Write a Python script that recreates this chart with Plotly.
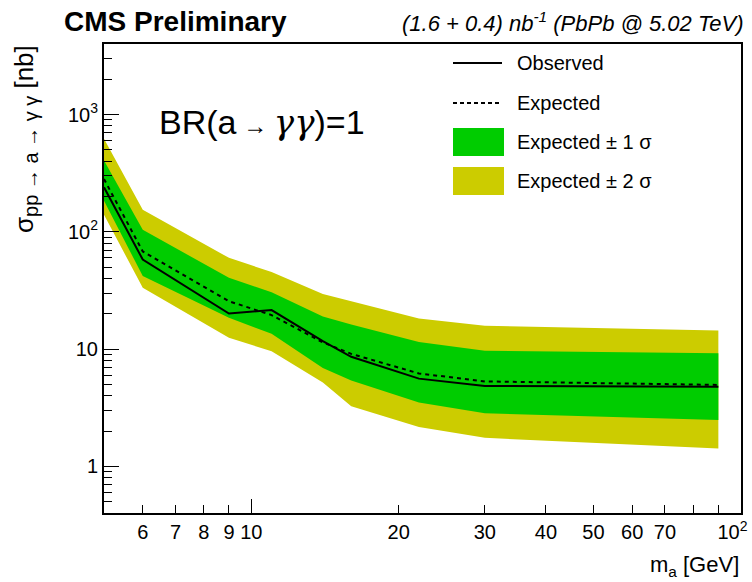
import numpy as np
import plotly.graph_objects as go

# ---- data ----
mass     = [5, 6, 9, 11, 14, 16, 22, 30, 90]
observed = [240, 58, 20.1, 21.5, 11.7, 8.6, 5.6, 4.85, 4.78]
expected = [282, 68, 25.6, 19.5, 11.4, 9.1, 6.2, 5.3, 4.95]
exp_p1   = [405, 104, 40.6, 30.5, 19.0, 16.2, 11.5, 9.7, 9.2]
exp_m1   = [184, 42, 18.5, 13.5, 6.9, 5.4, 3.5, 2.83, 2.48]
exp_p2   = [621, 154, 60, 45.5, 29.5, 25.6, 18.2, 15.8, 14.4]
exp_m2   = [140, 33.3, 12.5, 9.6, 5.2, 3.25, 2.17, 1.75, 1.42]

x_tickvals = [6, 7, 8, 9, 10, 20, 30, 40, 50, 60, 70, 100]
x_ticktext = ["6", "7", "8", "9", "10", "20", "30", "40", "50", "60", "70",
              "10<sup>2</sup>\u00a0\u00a0\u00a0"]
y_tickvals = [1, 10, 100, 1000]
y_ticktext = ["1", "10", "10<sup>2</sup>", "10<sup>3</sup>"]

legend_labels = ["Observed", "Expected", "Expected \u00b1 1 \u03c3", "Expected \u00b1 2 \u03c3"]

GREEN = "#00CC00"
YELLOW = "#CCCC00"
FONT = "Liberation Sans"

fig = go.Figure()

def band(up, lo, color):
    return go.Scatter(x=list(mass) + list(mass)[::-1], y=list(up) + list(lo)[::-1],
                      fill="toself", fillcolor=color, line=dict(width=0),
                      mode="lines", hoverinfo="skip", showlegend=False)

fig.add_trace(band(exp_p2, exp_m2, YELLOW))
fig.add_trace(band(exp_p1, exp_m1, GREEN))
fig.add_trace(go.Scatter(x=mass, y=expected, mode="lines",
                         line=dict(color="black", width=2, dash="4px,4px"), showlegend=False))
fig.add_trace(go.Scatter(x=mass, y=observed, mode="lines",
                         line=dict(color="black", width=2), showlegend=False))

# secondary x axis only for the long ticks at decades
fig.add_trace(go.Scatter(x=[10], y=[1], xaxis="x2", mode="markers",
                         marker=dict(opacity=0), showlegend=False, hoverinfo="skip"))

xmin, xmax = 5, 100
ymin, ymax = 0.4, 4000
xr = [np.log10(xmin), np.log10(xmax) + 0.0005]

yminor = [m * 10 ** k for k in range(-1, 4) for m in range(2, 10)
          if ymin <= m * 10 ** k <= ymax]

fig.update_layout(
    width=752, height=582,
    margin=dict(l=104, r=11, t=44, b=69, autoexpand=False),
    paper_bgcolor="white", plot_bgcolor="white",
    font=dict(family=FONT, size=20, color="black"),
    showlegend=False,
    xaxis=dict(type="log", range=xr, automargin=False,
               tickvals=x_tickvals, ticktext=x_ticktext,
               ticks="inside", ticklen=8, tickwidth=1, tickcolor="black",
               showline=True, linecolor="black", linewidth=2, mirror=True,
               showgrid=False, zeroline=False, ticklabeloverflow="allow",
               tickfont=dict(size=20),
               minor=dict(tickvals=[80, 90], ticks="inside", ticklen=8,
                          tickcolor="black", showgrid=False)),
    xaxis2=dict(type="log", range=xr, overlaying="x", automargin=False,
                side="bottom", anchor="y", tickvals=[10, 100], ticks="inside",
                ticklen=14, tickwidth=1, tickcolor="black", showticklabels=False,
                showgrid=False, zeroline=False, showline=False),
    yaxis=dict(type="log", range=[np.log10(ymin), np.log10(ymax)], automargin=False,
               tickvals=y_tickvals, ticktext=y_ticktext,
               ticks="inside", ticklen=15, tickwidth=1, tickcolor="black",
               showline=True, linecolor="black", linewidth=2, mirror=True,
               showgrid=False, zeroline=False,
               tickfont=dict(size=20),
               minor=dict(tickvals=yminor, ticks="inside", ticklen=8,
                          tickcolor="black", showgrid=False)),
)

def px2paper(px, py):
    return (px - 104) / 637.0, (513 - py) / 469.0

ann = []
x, y = px2paper(62, 22)
ann.append(dict(x=x, y=y, xref="paper", yref="paper", xanchor="left", yanchor="middle",
                text="<b>CMS Preliminary</b>", showarrow=False,
                font=dict(family=FONT, size=28)))
x, y = px2paper(746, 22)
ann.append(dict(x=x, y=y, xref="paper", yref="paper", xanchor="right", yanchor="middle",
                text="<i>(1.6 + 0.4) nb<sup>-1</sup> (PbPb @ 5.02 TeV)</i>", showarrow=False,
                font=dict(family=FONT, size=22)))
x, y = px2paper(157, 122)
ann.append(dict(x=x, y=y, xref="paper", yref="paper", xanchor="left", yanchor="middle",
                text="BR(a<span style='font-size:24px'> \u2192 </span>"
                     "<span style='font-family:DejaVu Serif;font-style:italic'>\u03b3\u03b3</span>)=1",
                showarrow=False, font=dict(family=FONT, size=34)))
x, y = px2paper(741, 566)
ann.append(dict(x=x, y=y, xref="paper", yref="paper", xanchor="right", yanchor="middle",
                text="m<sub>a</sub> [GeV]", showarrow=False,
                font=dict(family=FONT, size=22)))
x, y = px2paper(25, 43)
ann.append(dict(x=x, y=y, xref="paper", yref="paper", xanchor="center", yanchor="top",
                textangle=-90,
                text="\u03c3<sub><span style='font-size:20px'>pp \u2192 a \u2192 \u03b3 \u03b3</span></sub> [nb]",
                showarrow=False, font=dict(family=FONT, size=26)))

# legend (drawn manually)
shapes = []
lx0, _ = px2paper(453, 0)
lx1, _ = px2paper(502, 0)
rx1, _ = px2paper(504, 0)
tx, _ = px2paper(515, 0)
rows_y = [63, 103, 142, 181]
_, y0 = px2paper(0, rows_y[0])
shapes.append(dict(type="line", xref="paper", yref="paper", x0=lx0, x1=lx1, y0=y0, y1=y0,
                   line=dict(color="black", width=2)))
_, y1 = px2paper(0, rows_y[1])
shapes.append(dict(type="line", xref="paper", yref="paper", x0=lx0, x1=lx1, y0=y1, y1=y1,
                   line=dict(color="black", width=2, dash="4px,3px")))
for ry, col in [(rows_y[2], GREEN), (rows_y[3], YELLOW)]:
    _, ya = px2paper(0, ry + 14)
    _, yb = px2paper(0, ry - 14)
    shapes.append(dict(type="rect", xref="paper", yref="paper", x0=lx0, x1=rx1, y0=ya, y1=yb,
                       fillcolor=col, line=dict(width=0)))
for ry, lab in zip(rows_y, legend_labels):
    _, yy = px2paper(0, ry)
    ann.append(dict(x=tx, y=yy, xref="paper", yref="paper", xanchor="left", yanchor="middle",
                    text=lab, showarrow=False, font=dict(family=FONT, size=20)))

fig.update_layout(annotations=ann, shapes=shapes)
fig.write_html("out.html")
